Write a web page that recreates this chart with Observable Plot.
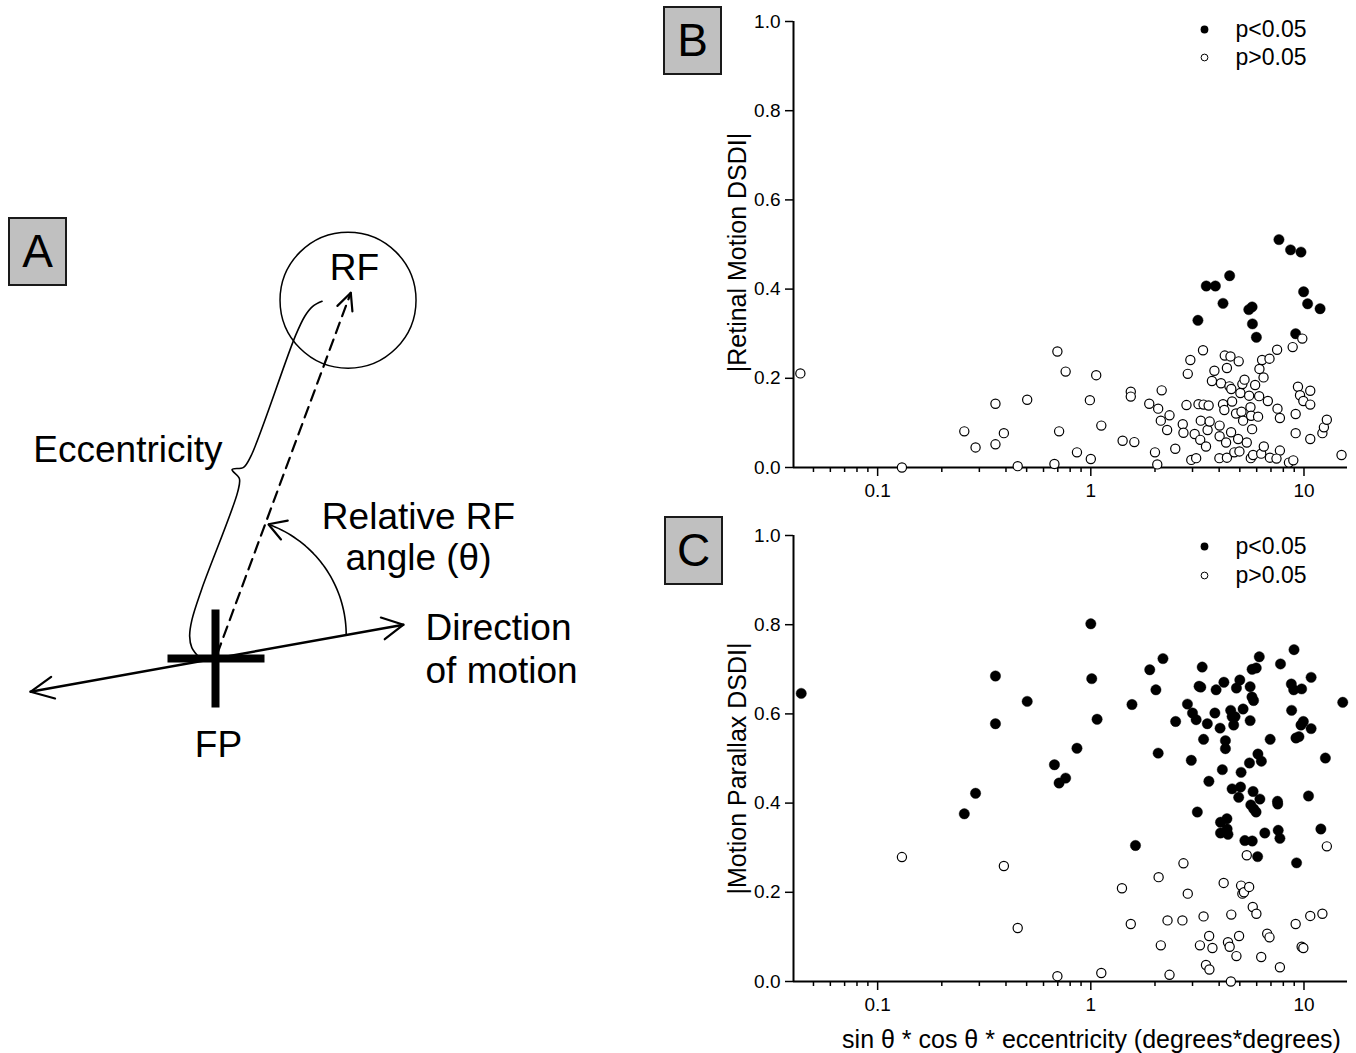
<!DOCTYPE html>
<html><head><meta charset="utf-8">
<script src="https://cdn.jsdelivr.net/npm/d3@7"></script>
<script src="https://cdn.jsdelivr.net/npm/@observablehq/plot@0.6"></script>
<style>
body{margin:0;background:#fff;font-family:"Liberation Sans",Arial,sans-serif;}
#wrap{position:relative;width:1356px;height:1053px;overflow:hidden;background:#fff;}
.panel{position:absolute;}
.tag{position:absolute;box-sizing:border-box;width:59px;height:69px;background:#c0c0c0;border:2px solid #1a1a1a;font-size:46px;line-height:65px;text-align:center;color:#000;font-family:"Liberation Sans",Arial,sans-serif;}
</style></head><body>
<div id="wrap">
  <div class="panel" id="pA" style="left:0;top:0"></div>
  <div class="panel" id="pB" style="left:700px;top:0"></div>
  <div class="panel" id="pC" style="left:700px;top:500px"></div>
  <div class="tag" style="left:8px;top:217px">A</div>
  <div class="tag" style="left:663px;top:6px">B</div>
  <div class="tag" style="left:664px;top:516px">C</div>
</div>
<script>
// ---------------- data ----------------
const xTickMajor = [0.1, 1, 10];
const xTickMinor = [0.05,0.06,0.07,0.08,0.09,0.2,0.3,0.4,0.5,0.6,0.7,0.8,0.9,2,3,4,5,6,7,8,9];
const yTicks = [0, 0.2, 0.4, 0.6, 0.8, 1.0];
const legendLabels = ["p<0.05", "p>0.05"];
const xTitle = "sin \u03b8 * cos \u03b8 * eccentricity (degrees*degrees)";
const yTitleB = "|Retinal Motion DSDI|";
const yTitleC = "|Motion Parallax DSDI|";

// Panel B: significant (filled)
const bSigX = [7.63,8.65,9.68,4.48,3.48,3.84,9.96,4.17,10.4,11.9,5.51,5.71,3.18,5.73,5.98,9.14];
const bSigY = [0.511,0.488,0.483,0.430,0.407,0.407,0.394,0.368,0.367,0.356,0.354,0.360,0.330,0.322,0.292,0.300];
// Panel B: not significant (open)
const bNsX = [0.0434,0.130,0.255,0.288,0.357,0.357,0.391,0.454,0.503,0.675,0.697,0.710,0.762,0.861,
  1.00,0.99,1.06,1.12,1.41,1.60,1.54,1.54,1.88,2.00,2.05,2.07,2.15,2.13,2.34,2.28,2.49,2.70,2.72,2.81,2.85,2.93,2.96,3.12,3.07,3.20,3.26,3.28,3.36,3.38,3.47,3.57,3.53,3.61,3.70,3.80,
  4.02,4.02,4.08,4.17,4.23,4.01,4.35,4.31,4.25,4.35,4.52,4.47,4.56,4.55,4.60,4.71,4.94,4.80,4.91,4.98,5.03,5.09,5.18,5.14,5.26,5.39,5.53,5.61,5.65,5.63,5.71,5.77,5.90,
  6.09,6.16,6.18,6.46,6.36,6.30,6.48,6.77,6.89,6.92,7.48,7.51,7.71,7.71,7.43,8.50,8.91,8.85,9.14,9.14,9.37,9.58,9.82,9.93,10.7,10.7,10.7,12.2,12.4,12.8,15.0];
const bNsY = [0.211,0.000,0.081,0.045,0.143,0.052,0.077,0.003,0.152,0.008,0.260,0.081,0.215,0.034,
  0.019,0.151,0.207,0.094,0.060,0.057,0.170,0.159,0.143,0.034,0.007,0.132,0.173,0.105,0.117,0.084,0.042,0.097,0.078,0.140,0.210,0.241,0.017,0.021,0.075,0.142,0.062,0.105,0.263,0.141,0.047,0.139,0.084,0.103,0.194,0.217,
  0.094,0.070,0.189,0.142,0.129,0.021,0.022,0.056,0.251,0.223,0.249,0.182,0.176,0.079,0.148,0.034,0.238,0.121,0.064,0.036,0.167,0.125,0.105,0.187,0.197,0.056,0.161,0.135,0.116,0.021,0.086,0.028,0.185,
  0.114,0.160,0.221,0.202,0.241,0.031,0.047,0.149,0.244,0.022,0.264,0.132,0.111,0.038,0.020,0.011,0.016,0.270,0.120,0.077,0.181,0.162,0.289,0.149,0.141,0.172,0.064,0.077,0.090,0.107,0.028];

// Panel C: significant (filled)
const cSigX = [0.0438,0.255,0.288,0.357,0.357,0.503,0.675,0.710,0.762,0.861,
  1.00,1.01,1.07,1.56,2.07,1.62,1.89,2.02,2.18,2.50,2.84,2.96,3.00,3.12,3.16,3.22,3.28,3.33,3.38,3.52,3.58,3.82,3.87,4.04,4.14,4.21,4.28,4.28,4.06,4.06,4.35,4.36,4.40,
  4.53,4.60,4.75,4.68,4.82,5.00,5.18,5.07,4.60,5.04,4.94,5.28,5.72,5.55,5.59,5.59,5.70,5.80,5.71,5.97,6.17,5.77,5.63,5.81,5.96,6.08,6.31,6.21,6.55,6.06,6.94,
  7.51,7.53,7.57,7.71,7.76,8.72,8.98,8.95,8.75,9.75,9.68,9.93,9.17,9.47,9.23,10.8,10.8,10.5,12.0,12.6,15.2];
const cSigY = [0.646,0.376,0.422,0.685,0.578,0.628,0.486,0.445,0.456,0.523,
  0.802,0.679,0.588,0.621,0.512,0.305,0.699,0.654,0.724,0.583,0.622,0.496,0.602,0.587,0.380,0.662,0.660,0.705,0.543,0.578,0.449,0.602,0.654,0.568,0.475,0.671,0.540,0.522,0.357,0.333,0.365,0.342,0.330,
  0.608,0.594,0.594,0.575,0.658,0.676,0.611,0.469,0.432,0.436,0.413,0.316,0.315,0.490,0.585,0.661,0.638,0.630,0.700,0.703,0.728,0.426,0.396,0.387,0.380,0.510,0.494,0.409,0.333,0.280,0.543,
  0.404,0.398,0.339,0.321,0.712,0.667,0.744,0.654,0.608,0.656,0.575,0.583,0.546,0.549,0.266,0.682,0.567,0.416,0.342,0.501,0.626];
// Panel C: not significant (open)
const cNsX = [0.130,0.391,0.454,0.697,1.12,1.40,1.54,2.08,2.13,2.29,2.34,2.69,2.72,2.85,3.25,3.38,3.47,3.59,3.60,3.72,
  4.20,4.40,4.48,4.56,4.54,4.82,4.96,5.07,5.14,5.23,5.39,5.53,5.75,5.98,6.30,6.72,6.89,7.71,9.14,9.75,9.93,10.7,12.2,12.8];
const cNsY = [0.279,0.259,0.120,0.012,0.019,0.209,0.129,0.234,0.081,0.137,0.015,0.137,0.265,0.197,0.081,0.146,0.037,0.102,0.027,0.075,
  0.221,0.088,0.078,0.150,0.000,0.057,0.102,0.215,0.197,0.200,0.283,0.212,0.167,0.152,0.055,0.107,0.099,0.032,0.129,0.078,0.075,0.147,0.152,0.303];

// Panel A labels
const diagramLabels = ["RF", "Eccentricity", "Relative RF", "angle (\u03b8)", "Direction", "of motion", "FP"];

// ---------------- helpers ----------------
const FONT = "'Liberation Sans', Arial, Helvetica, sans-serif";
const toRows = (xs, ys) => xs.map((x, i) => ({x, y: ys[i]}));
const xDomain = [0.0403, 16.0];
const fmtX = d => d3.format("~g")(d);
const fmtY = d3.format(".1f");

function scatterPanel({sig, ns, yTitle, height, marginTop, marginBottom, legendDy, yTitleDy, withXTitle}) {
  const marks = [
    Plot.axisX({ticks: xTickMinor, tickSize: 5, tickFormat: () => "", strokeWidth: 1.5, label: null}),
    Plot.axisX({ticks: xTickMajor, tickSize: 9, tickFormat: () => "", strokeWidth: 1.5, label: null}),
    Plot.axisY({ticks: yTicks, tickSize: 8, tickFormat: () => "", strokeWidth: 1.5, label: null}),
    Plot.text(xTickMajor, {x: d => d, frameAnchor: "bottom", dy: 23, text: fmtX, textAnchor: "middle", lineAnchor: "middle", fontSize: 19}),
    Plot.text(yTicks, {y: d => d, frameAnchor: "left", dx: -13, text: fmtY, textAnchor: "end", lineAnchor: "middle", fontSize: 19}),
    Plot.ruleY([0], {strokeWidth: 2}),
    Plot.ruleX([xDomain[0]], {strokeWidth: 2}),
    Plot.dot(sig, {x: "x", y: "y", r: 5.2, fill: "#000", stroke: "#000", strokeWidth: 0.4}),
    Plot.dot(ns, {x: "x", y: "y", r: 4.6, fill: "#fff", stroke: "#000", strokeWidth: 1.2}),
    Plot.dot([legendLabels[0]], {frameAnchor: "top-right", dx: -143, dy: legendDy[0], r: 3.9, fill: "#000"}),
    Plot.dot([legendLabels[1]], {frameAnchor: "top-right", dx: -143, dy: legendDy[1], r: 3.4, fill: "#fff", stroke: "#000", strokeWidth: 1}),
    Plot.text([legendLabels[0]], {frameAnchor: "top-right", dx: -112, dy: legendDy[0], textAnchor: "start", lineAnchor: "middle", fontSize: 23}),
    Plot.text([legendLabels[1]], {frameAnchor: "top-right", dx: -112, dy: legendDy[1], textAnchor: "start", lineAnchor: "middle", fontSize: 23}),
    Plot.text([yTitle], {frameAnchor: "left", rotate: -90, dx: -56, dy: yTitleDy, textAnchor: "middle", lineAnchor: "middle", fontSize: 25})
  ];
  if (withXTitle) marks.push(Plot.text([xTitle], {frameAnchor: "bottom", dx: 21, dy: 58, textAnchor: "middle", lineAnchor: "middle", fontSize: 25}));
  return Plot.plot({
    width: 656, height, marginLeft: 93, marginRight: 9, marginTop, marginBottom,
    style: {fontFamily: FONT, fontSize: "19px", color: "#000", background: "transparent", overflow: "visible"},
    x: {type: "log", domain: xDomain},
    y: {domain: [0, 1]},
    marks
  });
}

document.getElementById("pB").append(scatterPanel({
  sig: toRows(bSigX, bSigY), ns: toRows(bNsX, bNsY), yTitle: yTitleB,
  height: 500, marginTop: 21, marginBottom: 33, legendDy: [8, 36], yTitleDy: 8, withXTitle: false
}));
document.getElementById("pC").append(scatterPanel({
  sig: toRows(cSigX, cSigY), ns: toRows(cNsX, cNsY), yTitle: yTitleC,
  height: 553, marginTop: 35, marginBottom: 72, legendDy: [11, 40], yTitleDy: 10, withXTitle: true
}));

// ---------------- Panel A: schematic (FP at origin, y up) ----------------
const geo = {
  motionDeg: 10.2, rfDeg: 69.7,
  rfDist: 382, rfRadius: 68, rfArrowLen: 390, dashStart: 5,
  dirRight: 191, dirLeft: 188, crossHalfV: 49, crossLeft: -48, crossRight: 49,
  arcCenter: [13, 23.5], arcRadius: 117.7, arcFrom: 0, arcTo: 70.2,
  braceUV: [[-5,15],[2,26],[12,32],[28,35.5],[60,37],[164,37],[177,40],[183,50],[189,40],[202,37],[330,37],[352,35],[364,31],[372,24]],
  labelPos: [[139,390,"middle"],[7,208,"end"],[203,141,"middle"],[203,100,"middle"],[210,30,"start"],[210,-13,"start"],[3,-87,"middle"]]
};
const rad = d => d * Math.PI / 180;
const pol = (r, deg, c = [0, 0]) => [c[0] + r * Math.cos(rad(deg)), c[1] + r * Math.sin(rad(deg))];
function head(tip, deg, L, W, id) {
  const d = [Math.cos(rad(deg)), Math.sin(rad(deg))], n = [-d[1], d[0]];
  const b = [tip[0] - L * d[0], tip[1] - L * d[1]];
  return [[b[0] + W * n[0], b[1] + W * n[1]], tip, [b[0] - W * n[0], b[1] - W * n[1]]].map(([x, y]) => ({id, x, y}));
}
const seg = (pts, id) => pts.map(([x, y]) => ({id, x, y}));

const rightTip = pol(geo.dirRight, geo.motionDeg), leftTip = pol(geo.dirLeft, geo.motionDeg + 180);
const dirLine = seg([leftTip, rightTip], "dir");
const rfTip = pol(geo.rfArrowLen, geo.rfDeg);
const dashLine = seg([pol(geo.dashStart, geo.rfDeg), rfTip], "dash");
const arcPts = d3.range(0, 41).map(i => pol(geo.arcRadius, geo.arcFrom + (geo.arcTo - geo.arcFrom) * i / 40, geo.arcCenter));
const arcLine = seg(arcPts, "arc");
const heads = [
  ...head(rightTip, geo.motionDeg, 21, 11, "hR"),
  ...head(leftTip, geo.motionDeg + 180, 23, 11, "hL"),
  ...head(rfTip, geo.rfDeg, 17, 8, "hD"),
  ...head(arcPts[arcPts.length - 1], geo.arcTo + 90, 17, 10, "hA")
];
const bd = [Math.cos(rad(geo.rfDeg)), Math.sin(rad(geo.rfDeg))], bn = [-bd[1], bd[0]];
const braceLine = geo.braceUV.map(([u, v]) => ({x: u * bd[0] + v * bn[0], y: u * bd[1] + v * bn[1]}));
const crossV = seg([[0, geo.crossHalfV], [0, -geo.crossHalfV]], "cv");
const crossH = seg([[geo.crossLeft, 0], [geo.crossRight, 0]], "ch");
const rfCenter = pol(geo.rfDist, geo.rfDeg);
const labels = diagramLabels.map((t, i) => ({t, x: geo.labelPos[i][0], y: geo.labelPos[i][1], a: geo.labelPos[i][2]}));

const diagram = Plot.plot({
  width: 640, height: 1053, margin: 0,
  style: {fontFamily: FONT, color: "#000", background: "transparent", overflow: "visible"},
  x: {domain: [-215, 425], axis: null},
  y: {domain: [-395, 658], axis: null},
  marks: [
    Plot.dot([rfCenter], {x: d => d[0], y: d => d[1], r: geo.rfRadius, fill: "none", stroke: "#000", strokeWidth: 1.5}),
    Plot.line(dashLine, {x: "x", y: "y", stroke: "#000", strokeWidth: 2.2, strokeDasharray: "11,7"}),
    Plot.line(dirLine, {x: "x", y: "y", stroke: "#000", strokeWidth: 2.5}),
    Plot.line(arcLine, {x: "x", y: "y", stroke: "#000", strokeWidth: 1.6}),
    Plot.line(braceLine, {x: "x", y: "y", curve: "catmull-rom", stroke: "#000", strokeWidth: 1.6}),
    Plot.line(heads, {x: "x", y: "y", z: "id", stroke: "#000", strokeWidth: 2.2, strokeLinejoin: "miter"}),
    Plot.line(crossV, {x: "x", y: "y", stroke: "#000", strokeWidth: 8, strokeLinecap: "butt"}),
    Plot.line(crossH, {x: "x", y: "y", stroke: "#000", strokeWidth: 8, strokeLinecap: "butt"}),
    Plot.text(labels.filter(d => d.a === "middle"), {x: "x", y: "y", text: "t", textAnchor: "middle", fontSize: 37}),
    Plot.text(labels.filter(d => d.a === "start"), {x: "x", y: "y", text: "t", textAnchor: "start", fontSize: 37}),
    Plot.text(labels.filter(d => d.a === "end"), {x: "x", y: "y", text: "t", textAnchor: "end", fontSize: 37})
  ]
});
document.getElementById("pA").append(diagram);
</script>
</body></html>
